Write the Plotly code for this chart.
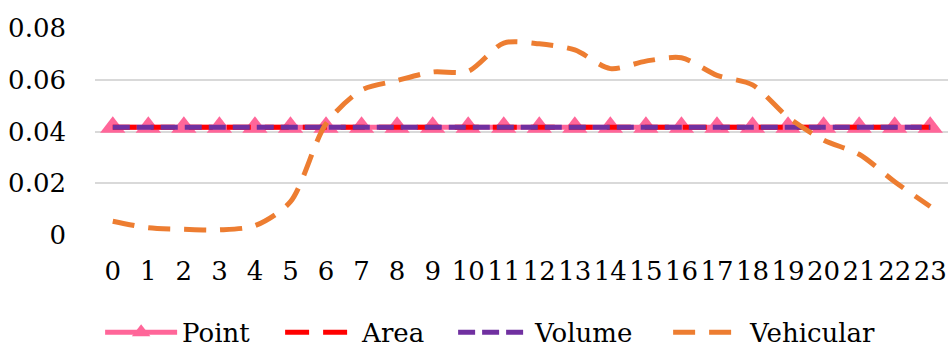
import plotly.graph_objects as go

hours = [str(h) for h in range(24)]
point = [1/24] * 24
area = [1/24] * 24
volume = [1/24] * 24
vehicular = [0.0053, 0.0028, 0.0022, 0.0020, 0.0036, 0.0129, 0.0430, 0.0560,
             0.0597, 0.0630, 0.0633, 0.0742, 0.0739, 0.0715, 0.0643, 0.0672,
             0.0685, 0.0617, 0.0580, 0.0455, 0.0367, 0.0312, 0.0206, 0.0110]
y_ticks = [0, 0.02, 0.04, 0.06, 0.08]
y_labels = ["0", "0.02", "0.04", "0.06", "0.08"]

FONT = "DejaVu Serif"
FS = 26

fig = go.Figure()
fig.add_trace(go.Scatter(x=hours, y=point, name="Point", mode="lines+markers",
                         line=dict(color="#FF6699", width=5),
                         marker=dict(symbol="triangle-up", size=22, color="#FF6699"),
                         legendwidth=93))
fig.add_trace(go.Scatter(x=hours, y=area, name="Area", mode="lines",
                         line=dict(color="#FF0000", width=5, dash="24px,14px"),
                         legendwidth=86))
fig.add_trace(go.Scatter(x=hours, y=volume, name="Volume", mode="lines",
                         line=dict(color="#7030A0", width=5, dash="17px,7px"),
                         legendwidth=128))
fig.add_trace(go.Scatter(x=hours, y=vehicular, name="Vehicular", mode="lines",
                         line=dict(color="#ED7D31", width=5, dash="22px,14px",
                                   shape="spline", smoothing=0.8),
                         legendwidth=150))

fig.update_layout(
    width=949, height=350,
    margin=dict(l=95, r=1, t=28, b=115, autoexpand=False),
    paper_bgcolor="white", plot_bgcolor="white",
    font=dict(family=FONT, size=FS, color="black"),
    showlegend=True,
    legend=dict(orientation="h", x=0.006, xanchor="left", y=-0.47, yanchor="middle",
                font=dict(family=FONT, size=FS), itemwidth=72, traceorder="normal",
                entrywidthmode="pixels"),
)
fig.update_xaxes(type="category", range=[-0.5, 23.5], showgrid=False, showline=False,
                 zeroline=False, ticks="", ticklabelstandoff=18,
                 tickmode="array", tickvals=hours, ticktext=hours,
                 tickfont=dict(family=FONT, size=FS))
fig.update_yaxes(range=[0, 0.08], tickvals=y_ticks, ticktext=y_labels,
                 showgrid=True, gridcolor="#D9D9D9", gridwidth=1.5,
                 zeroline=False, showline=False, ticks="", ticklabelstandoff=28,
                 tickfont=dict(family=FONT, size=FS))

fig.write_html("out.html")
